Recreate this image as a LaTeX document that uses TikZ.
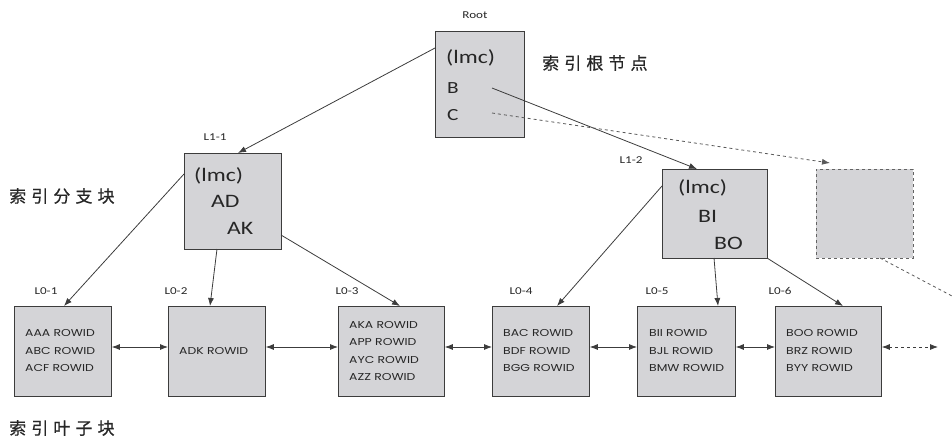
\documentclass[tikz,border=0pt]{standalone}
\usepackage{fontspec}
\setmainfont{Carlito}
\newfontfamily\boxfont[FakeStretch=1.25]{Carlito}
\newfontfamily\leaffont[FakeStretch=1.24]{Poppins}
\newfontfamily\cjk[FakeBold=0.6]{Noto Sans CJK SC}
\usetikzlibrary{arrows.meta,calc}
\definecolor{boxfill}{HTML}{D4D4D7}
\definecolor{edge}{HTML}{3C3C3C}
\tikzset{
  box/.style={draw=edge, fill=boxfill, line width=0.8pt, inner sep=0pt, anchor=north west},
  dbox/.style={box, dashed, draw=edge!80},
  big/.style={font=\boxfont\fontsize{19}{19}\selectfont, text=black!85, inner sep=0pt, anchor=west},
  mid/.style={font=\boxfont\fontsize{17}{17}\selectfont, text=black!85, inner sep=0pt, anchor=west},
  leaf/.style={font=\leaffont\fontsize{10}{17.5}\selectfont, text=black!85, inner sep=0pt, align=left, anchor=west},
  lab/.style={font=\boxfont\fontsize{10.5}{11}\selectfont, text=black!85, inner sep=0pt},
  cn/.style={font=\cjk\fontsize{17}{17}\selectfont\addfontfeature{LetterSpace=30}, text=black!85, inner sep=0pt, anchor=west},
  conn/.style={draw=edge, line width=0.8pt, -{Latex[length=8pt,width=6pt]}},
  dconn/.style={conn, dashed},
  link/.style={draw=edge, line width=0.8pt, {Latex[length=8pt,width=6pt]}-{Latex[length=8pt,width=6pt]}},
}
\begin{document}
\begin{tikzpicture}[x=1pt,y=-1pt]
\useasboundingbox (0,0) rectangle (952,441);
% root
\node[box, minimum width=89pt, minimum height=106pt] (root) at (435,31) {};
\node[lab] (rootlab) at (475,15) {Root};
\node[big] (r1) at (446,58) {(lmc)};
\node[mid] (r2) at (447,88) {B};
\node[mid] (r3) at (447,115) {C};
\node[cn] (cnroot) at (542,63) {索引根节点};
% level 1
\node[box, minimum width=97pt, minimum height=96pt] (l11) at (184,153) {};
\node[lab] (l11lab) at (215,137) {L1-1};
\node[big] (a1) at (194,176) {(lmc)};
\node[big] (a2) at (211,201) {AD};
\node[big] (a3) at (227,228) {AK};
\node[box, minimum width=105pt, minimum height=89pt] (l12) at (662,169) {};
\node[lab] (l12lab) at (631,160) {L1-2};
\node[big] (b1) at (678,188) {(lmc)};
\node[big] (b2) at (698,216) {BI};
\node[big] (b3) at (714,243) {BO};
\node[dbox, minimum width=97pt, minimum height=89pt] (l13) at (816,169) {};
\node[cn] (cnbranch) at (9,196) {索引分支块};
% leaves
\node[box, minimum width=97pt, minimum height=90pt] (f1) at (14,306) {};
\node[box, minimum width=97pt, minimum height=90pt] (f2) at (168,306) {};
\node[box, minimum width=106pt, minimum height=90pt] (f3) at (338,306) {};
\node[box, minimum width=97pt, minimum height=90pt] (f4) at (492,306) {};
\node[box, minimum width=98pt, minimum height=90pt] (f5) at (637,306) {};
\node[box, minimum width=106pt, minimum height=90pt] (f6) at (775,306) {};
\node[lab] (f1lab) at (46,291) {L0-1};
\node[lab] (f2lab) at (176,291) {L0-2};
\node[lab] (f3lab) at (347,291) {L0-3};
\node[lab] (f4lab) at (521,291) {L0-4};
\node[lab] (f5lab) at (657,291) {L0-5};
\node[lab] (f6lab) at (780,291) {L0-6};
\node[leaf] (t1) at (25,351) {AAA ROWID\\ABC ROWID\\ACF ROWID};
\node[leaf] (t2) at (179,351) {ADK ROWID};
\node[leaf] (t3) at (349,351) {AKA ROWID\\APP ROWID\\AYC ROWID\\AZZ ROWID};
\node[leaf] (t4) at (503,351) {BAC ROWID\\BDF ROWID\\BGG ROWID};
\node[leaf] (t5) at (649,351) {BII ROWID\\BJL ROWID\\BMW ROWID};
\node[leaf] (t6) at (786,351) {BOO ROWID\\BRZ ROWID\\BYY ROWID};
\node[cn] (cnleaf) at (9,428) {索引叶子块};
% connector endpoints
\coordinate (rs) at (435,48);
\coordinate (rb) at (492,88);
\coordinate (rc) at (492,113);
\coordinate (rcend) at (830,163);
\coordinate (l13s) at (880,258);
\coordinate (l13e) at (952,296);
\coordinate (f6end) at (938,347);
% tree arrows
\draw[conn] (rs) -- (l11.north -| 238,0);
\draw[conn] (rb) -- (l12.north -| 697,0);
\draw[dconn, draw=edge!85] (rc) -- (rcend);
\draw[dashed, draw=edge!85, line width=0.8pt] (l13s) -- (l13e);
\draw[conn] (184,174) -- (f1.north -| 64,0);
\draw[conn] (217,249) -- (f2.north -| 210,0);
\draw[conn] (281,235) -- (f3.north -| 400,0);
\draw[conn] (662,186) -- (f4.north -| 557,0);
\draw[conn] (714,258) -- (f5.north -| 718,0);
\draw[conn] (767,258) -- (f6.north -| 843,0);
% sibling links
\draw[link] (f1.east |- 0,347) -- (f2.west |- 0,347);
\draw[link] (f2.east |- 0,347) -- (f3.west |- 0,347);
\draw[link] (f3.east |- 0,347) -- (f4.west |- 0,347);
\draw[link] (f4.east |- 0,347) -- (f5.west |- 0,347);
\draw[link] (f5.east |- 0,347) -- (f6.west |- 0,347);
\draw[link, dashed] (f6.east |- 0,347) -- (f6end);
\end{tikzpicture}
\end{document}
